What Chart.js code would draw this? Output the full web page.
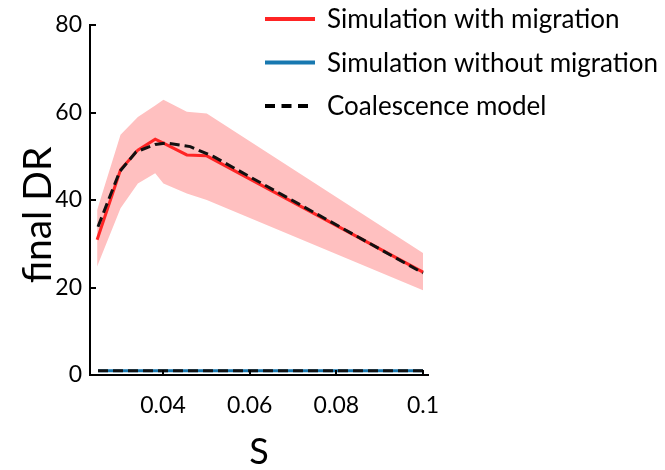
<!DOCTYPE html>
<html><head><meta charset="utf-8">
<script src="https://cdn.jsdelivr.net/npm/chart.js@4/dist/chart.umd.min.js"></script>
<style>html,body{margin:0;padding:0;background:#fff}</style>
</head><body><canvas id="c" width="665" height="470"></canvas>
<script>
const simS = [0.0248, 0.0302, 0.0342, 0.0382, 0.0401, 0.0455, 0.0501, 0.1];
const simWithMigration = [30.9, 46.9, 51.4, 53.9, 53.0, 50.3, 50.1, 23.5];
const simUpper = [37.7, 54.9, 59.0, 61.6, 62.9, 60.2, 59.8, 27.9];
const simLower = [24.8, 38.1, 43.8, 46.1, 43.8, 41.5, 40.0, 19.4];
const coalS = [0.0250, 0.0300, 0.0338, 0.0382, 0.0409, 0.0463, 0.0517, 0.1];
const coalWithMigration = [33.9, 46.5, 51.0, 52.7, 53.0, 52.2, 49.9, 23.3];
const noMigS = [0.025, 0.1];
const simWithoutMigration = [1.0, 1.0];
const coalWithoutMigration = [1.0, 1.0];
const xTicks = [0.04, 0.06, 0.08, 0.1];
const yTicks = [0, 20, 40, 60, 80];
const legendLabels = ['Simulation with migration', 'Simulation without migration', 'Coalescence model'];

const FONT = 'Lato, "Open Sans", sans-serif';
const pts = (xs, ys) => xs.map((x, i) => ({x: x, y: ys[i]}));

const RED = '#ff2424', BLUE = '#1878b0', BAND = '#ffc0c0';

const inwardTicks = {
  id: 'inwardTicks',
  afterDraw(chart) {
    const ctx = chart.ctx, xs = chart.scales.x, ys = chart.scales.y;
    ctx.save();
    ctx.strokeStyle = '#000'; ctx.lineWidth = 2;
    xTicks.forEach(v => {
      const px = Math.round(xs.getPixelForValue(v));
      ctx.beginPath(); ctx.moveTo(px, ys.bottom); ctx.lineTo(px, ys.bottom - 5); ctx.stroke();
    });
    yTicks.forEach(v => {
      const py = Math.round(ys.getPixelForValue(v));
      ctx.beginPath(); ctx.moveTo(xs.left, py); ctx.lineTo(xs.left + 6, py); ctx.stroke();
    });
    ctx.restore();
  }
};

const customLegend = {
  id: 'customLegend',
  afterDraw(chart) {
    const ctx = chart.ctx;
    const entries = [
      {label: legendLabels[0], color: RED, dash: [], end: 315},
      {label: legendLabels[1], color: BLUE, dash: [], end: 315},
      {label: legendLabels[2], color: '#000', dash: [10, 6.5], end: 308}
    ];
    ctx.save();
    entries.forEach((e, i) => {
      const y = 19 + i * 43.5;
      ctx.strokeStyle = e.color; ctx.lineWidth = 4; ctx.setLineDash(e.dash);
      ctx.beginPath(); ctx.moveTo(265, y); ctx.lineTo(e.end, y); ctx.stroke();
      ctx.setLineDash([]);
      ctx.fillStyle = '#000'; ctx.font = '26px ' + FONT; ctx.textBaseline = 'middle'; ctx.textAlign = 'left';
      ctx.fillText(e.label, 327, y + 1);
    });
    ctx.restore();
  }
};

new Chart(document.getElementById('c'), {
  type: 'line',
  data: {
    datasets: [
      {label: 'upper', order: 10, data: pts(simS, simUpper), borderWidth: 0, pointRadius: 0, fill: '+1', backgroundColor: BAND, borderColor: BAND, tension: 0},
      {label: 'lower', order: 9, data: pts(simS, simLower), borderWidth: 0, pointRadius: 0, fill: false, borderColor: BAND, tension: 0},
      {label: legendLabels[0], order: 4, data: pts(simS, simWithMigration), borderColor: RED, borderWidth: 3, pointRadius: 0, fill: false, tension: 0},
      {label: legendLabels[1], order: 3, data: pts(noMigS, simWithoutMigration), borderColor: BLUE, borderWidth: 3, pointRadius: 0, fill: false},
      {label: legendLabels[2], order: 2, data: pts(coalS, coalWithMigration), borderColor: '#111', borderWidth: 3, borderDash: [10, 5], pointRadius: 0, fill: false, tension: 0},
      {label: 'coal no migration', order: 1, data: pts(noMigS, coalWithoutMigration), borderColor: '#111', borderWidth: 3, borderDash: [10, 5], pointRadius: 0, fill: false}
    ]
  },
  options: {
    responsive: false,
    animation: false,
    devicePixelRatio: 1,
    layout: {padding: {top: 25, right: 237, left: 0, bottom: 0}},
    plugins: {legend: {display: false}, tooltip: {enabled: false}},
    scales: {
      x: {
        type: 'linear', min: 0.023154, max: 0.101154,
        afterBuildTicks: s => { s.ticks = xTicks.map(v => ({value: v})); },
        afterFit: s => { s.height = 95; },
        grid: {display: false, drawTicks: false},
        border: {display: true, color: '#000', width: 2},
        ticks: {padding: 17, color: '#000', font: {family: FONT, size: 23}, maxRotation: 0, autoSkip: false,
          callback: v => String(Number(v.toFixed(2)))},
        title: {display: true, text: 'S', color: '#000', font: {family: FONT, size: 36, lineHeight: 1}, padding: 0}
      },
      y: {
        type: 'linear', min: 0, max: 80,
        afterBuildTicks: s => { s.ticks = yTicks.map(v => ({value: v})); },
        afterFit: s => { s.width = 90; },
        grid: {display: false, drawTicks: false},
        border: {display: true, color: '#000', width: 2},
        ticks: {padding: 8, color: '#000', font: {family: FONT, size: 23}},
        title: {display: true, text: 'final DR\u00a0\u00a0\u00a0', color: '#000', font: {family: FONT, size: 39, lineHeight: 1}, padding: {top: 19, bottom: 0}}
      }
    }
  },
  plugins: [inwardTicks, customLegend]
});
</script></body></html>
